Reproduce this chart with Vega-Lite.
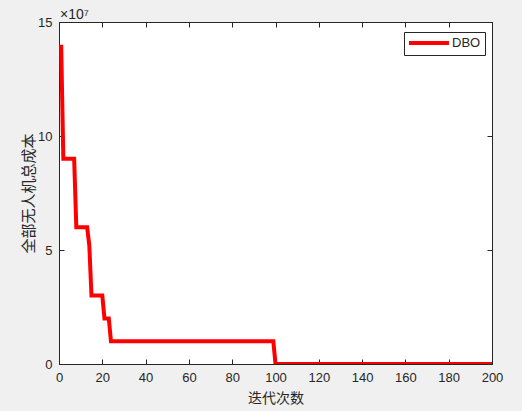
{
  "$schema": "https://vega.github.io/schema/vega-lite/v6.json",
  "width": 433,
  "height": 342,
  "autosize": "none",
  "padding": {"left": 59, "top": 22, "right": 30, "bottom": 47},
  "background": "#f0f0f0",
  "title": {"text": "×10⁷", "anchor": "start", "frame": "group", "fontSize": 14, "font": "Liberation Sans", "fontWeight": "normal", "color": "#262626", "offset": 4, "dx": 1, "dy": 10},
  "config": {
    "view": {"fill": "white", "stroke": "#262626", "strokeWidth": 1},
    "axis": {"domainColor": "#262626", "tickColor": "#262626", "labelColor": "#262626", "titleColor": "#262626", "grid": false, "tickSize": -5, "labelPadding": 12, "labelFlush": false, "labelOverlap": false, "labelFont": "Liberation Sans", "labelFontSize": 13, "titleFont": "Noto Sans CJK SC", "titleFontSize": 14, "titleFontWeight": "normal"},
    "legend": {"orient": "none", "legendX": 345, "legendY": 10, "strokeColor": "#262626", "fillColor": "white", "padding": 4, "symbolType": "M-4,0H4", "symbolStrokeWidth": 4, "symbolSize": 100, "symbolOffset": 14, "labelFont": "Liberation Sans", "labelFontSize": 13, "labelColor": "#262626", "labelOffset": 16, "title": null}
  },
  "data": {"values": [
    {"iter": 1, "cost": 140000000, "alg": "DBO"},
    {"iter": 2, "cost": 90000000, "alg": "DBO"},
    {"iter": 7, "cost": 90000000, "alg": "DBO"},
    {"iter": 8, "cost": 60000000, "alg": "DBO"},
    {"iter": 13, "cost": 60000000, "alg": "DBO"},
    {"iter": 14, "cost": 52000000, "alg": "DBO"},
    {"iter": 15, "cost": 30000000, "alg": "DBO"},
    {"iter": 20, "cost": 30000000, "alg": "DBO"},
    {"iter": 21, "cost": 20000000, "alg": "DBO"},
    {"iter": 23, "cost": 20000000, "alg": "DBO"},
    {"iter": 24, "cost": 10000000, "alg": "DBO"},
    {"iter": 99, "cost": 10000000, "alg": "DBO"},
    {"iter": 100, "cost": 0, "alg": "DBO"},
    {"iter": 200, "cost": 0, "alg": "DBO"}
  ]},
  "layer": [
    {
      "mark": {"type": "line", "strokeWidth": 4, "clip": true},
      "encoding": {
        "x": {"field": "iter", "type": "quantitative", "scale": {"domain": [0, 200], "nice": false}, "axis": {"title": "迭代次数", "values": [0,20,40,60,80,100,120,140,160,180,200], "titlePadding": 7}},
        "y": {"field": "cost", "type": "quantitative", "scale": {"domain": [0, 150000000], "nice": false}, "axis": {"title": "全部无人机总成本", "titleFontSize": 15, "values": [0, 50000000, 100000000, 150000000], "labelExpr": "format(datum.value/1e7, 'd')", "titlePadding": 1}},
        "color": {"field": "alg", "type": "nominal", "scale": {"range": ["#ff0000"]}}
      }
    },
    {
      "mark": {"type": "line", "opacity": 0},
      "encoding": {
        "x": {"field": "iter", "type": "quantitative", "scale": {"domain": [0, 200], "nice": false}, "axis": {"orient": "top", "labels": false, "title": null, "values": [0,20,40,60,80,100,120,140,160,180,200]}},
        "y": {"field": "cost", "type": "quantitative", "scale": {"domain": [0, 150000000], "nice": false}, "axis": {"orient": "right", "labels": false, "title": null, "values": [0, 50000000, 100000000, 150000000]}}
      }
    }
  ],
  "resolve": {"axis": {"x": "independent", "y": "independent"}}
}
